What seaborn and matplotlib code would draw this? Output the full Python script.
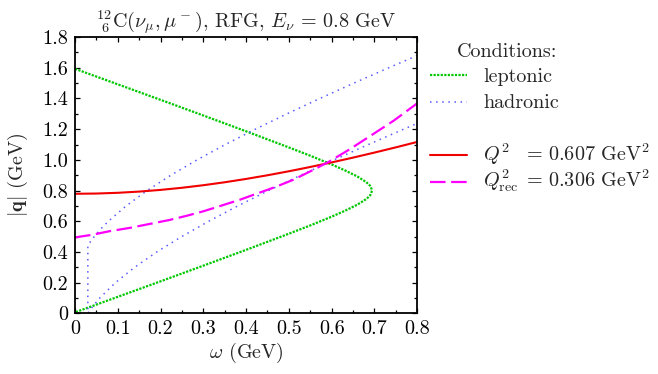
import numpy as np
import pandas as pd
import matplotlib
matplotlib.use("Agg")
import matplotlib.pyplot as plt
from matplotlib.lines import Line2D
import seaborn as sns

# ---------------- data ----------------
# leptonic boundary (closed curve: upper branch then lower branch)
lep_omega = [0, 0.1, 0.2, 0.3, 0.4, 0.5, 0.55, 0.6, 0.63, 0.66, 0.68, 0.685, 0.69, 0.692, 0.6943,
             0.692, 0.69, 0.685, 0.68, 0.66, 0.63, 0.6, 0.55, 0.5, 0.4, 0.3, 0.2, 0.1, 0]
lep_q = [1.593, 1.492, 1.391, 1.289, 1.186, 1.081, 1.027, 0.970, 0.933, 0.892, 0.857, 0.845, 0.831, 0.822, 0.800,
         0.778, 0.769, 0.755, 0.743, 0.708, 0.667, 0.630, 0.573, 0.519, 0.414, 0.311, 0.209, 0.108, 0.007]

# hadronic boundary (upper branch down to the vertical segment, then lower branch)
had_omega = [0.8004, 0.7337, 0.6520, 0.5726, 0.4957, 0.4219, 0.3516, 0.2854, 0.2241, 0.1685, 0.1195,
             0.0779, 0.0603, 0.0449, 0.0394, 0.0343, 0.030, 0.030,
             0.0427, 0.0577, 0.0944, 0.1392, 0.1911, 0.2492, 0.3126, 0.3806, 0.4525, 0.5277, 0.6057,
             0.6861, 0.7686, 0.8021]
had_q = [1.68, 1.60, 1.50, 1.40, 1.30, 1.20, 1.10, 1.00, 0.90, 0.80, 0.70,
         0.60, 0.55, 0.50, 0.48, 0.46, 0.442, 0.0,
         0.05, 0.10, 0.20, 0.30, 0.40, 0.50, 0.60, 0.70, 0.80, 0.90, 1.00,
         1.10, 1.20, 1.24]

# Q^2 = 0.607 GeV^2
q2_omega = [0, 0.05, 0.1, 0.15, 0.2, 0.25, 0.3, 0.35, 0.4, 0.45, 0.5, 0.55, 0.6, 0.65, 0.7, 0.75, 0.8]
q2_q = [0.7791, 0.7807, 0.7855, 0.7934, 0.8044, 0.8182, 0.8349, 0.8541, 0.8758, 0.8997, 0.9257,
        0.9537, 0.9834, 1.0146, 1.0474, 1.0814, 1.1167]

# Q^2_rec = 0.306 GeV^2
rec_omega = [0, 0.04, 0.08, 0.13, 0.175, 0.22, 0.26, 0.30, 0.34, 0.385, 0.43, 0.47, 0.51, 0.55,
             0.595, 0.64, 0.69, 0.745, 0.8]
rec_q = [0.495, 0.512, 0.535, 0.558, 0.583, 0.608, 0.635, 0.665, 0.700, 0.740, 0.785, 0.825, 0.870,
         0.925, 0.990, 1.065, 1.155, 1.255, 1.368]

x_ticks = [0, 0.1, 0.2, 0.3, 0.4, 0.5, 0.6, 0.7, 0.8]
x_tick_labels = ["0", "0.1", "0.2", "0.3", "0.4", "0.5", "0.6", "0.7", "0.8"]
y_ticks = [0, 0.2, 0.4, 0.6, 0.8, 1.0, 1.2, 1.4, 1.6, 1.8]
y_tick_labels = ["0", "0.2", "0.4", "0.6", "0.8", "1.0", "1.2", "1.4", "1.6", "1.8"]

legend_title = "Conditions:"
legend_names = ["leptonic", "hadronic", r"$Q^2$", r"$Q^2_{\mathrm{rec}}$"]
legend_values = ["", "", r"= 0.607 GeV$^2$", r"= 0.306 GeV$^2$"]

# ---------------- style ----------------
sns.set_theme(style="ticks")
plt.rcParams["font.family"] = ["cmr10", "DejaVu Serif"]
plt.rcParams["mathtext.fontset"] = "cm"
plt.rcParams["axes.formatter.use_mathtext"] = True
plt.rcParams["axes.unicode_minus"] = False

FS = 14.5
W, H = 658.0, 374.0
GREEN = "#00c800"
BLUE = "#5a5aff"
RED = "#f00000"
MAGENTA = "#ff00ff"

fig = plt.figure(figsize=(6.58, 3.74), dpi=100)
ax = fig.add_axes([0.114, 0.162, 0.520, 0.739])

lep_style = dict(color=GREEN, lw=1.6, linestyle=(0, (1, 0.6)))
had_style = dict(color=BLUE, lw=1.1, linestyle=(0, (1, 3)))
q2_style = dict(color=RED, lw=1.5, linestyle="-")
rec_style = dict(color=MAGENTA, lw=1.6, linestyle=(0, (7, 2.5)))
styles = [lep_style, had_style, q2_style, rec_style]

df_lep = pd.DataFrame({"omega": lep_omega, "q": lep_q})
df_had = pd.DataFrame({"omega": had_omega, "q": had_q})
df_q2 = pd.DataFrame({"omega": q2_omega, "q": q2_q})
df_rec = pd.DataFrame({"omega": rec_omega, "q": rec_q})

sns.lineplot(data=df_lep, x="omega", y="q", sort=False, estimator=None, ax=ax, **lep_style)
sns.lineplot(data=df_had, x="omega", y="q", sort=False, estimator=None, ax=ax, **had_style)
sns.lineplot(data=df_q2, x="omega", y="q", sort=False, estimator=None, ax=ax, **q2_style)
sns.lineplot(data=df_rec, x="omega", y="q", sort=False, estimator=None, ax=ax, **rec_style)

ax.set_xlim(0, 0.8)
ax.set_ylim(0, 1.8)
ax.set_xticks(x_ticks)
ax.set_xticklabels(x_tick_labels)
ax.set_yticks(y_ticks)
ax.set_yticklabels(y_tick_labels)
ax.set_xticks(np.arange(0, 0.8001, 0.05), minor=True)
ax.set_yticks(np.arange(0, 1.8001, 0.1), minor=True)
ax.tick_params(which="both", direction="in", top=True, right=True, colors="black",
               labelsize=FS, width=0.9, pad=5)
ax.tick_params(which="major", length=3.8)
ax.tick_params(which="minor", length=2.3)
for sp in ax.spines.values():
    sp.set_linewidth(1.3)
    sp.set_color("black")

ax.set_xlabel(r"$\omega$ (GeV)", fontsize=FS, labelpad=2)
ax.set_ylabel(r"$|\mathbf{q}|$ (GeV)", fontsize=FS, labelpad=9)
ax.set_title(r"${}^{12}_{\ 6}\mathrm{C}(\nu_\mu,\mu^-)$, RFG, $E_\nu$ = 0.8 GeV", fontsize=FS, pad=5)

# ---------------- key (placed to the right of the axes) ----------------
fig.text(457 / W, 1 - 56.7 / H, legend_title, fontsize=FS, va="baseline", ha="left")
handle_y = [75, 101.5, 155, 181.7]
text_base = [81.7, 108.0, 160.7, 186.7]
for st, hy, tb, name, val in zip(styles, handle_y, text_base, legend_names, legend_values):
    fig.add_artist(Line2D([430 / W, 467 / W], [1 - hy / H, 1 - hy / H],
                          transform=fig.transFigure, **st))
    fig.text(483 / W, 1 - tb / H, name, fontsize=FS, va="baseline", ha="left")
    if val:
        fig.text(526 / W, 1 - tb / H, val, fontsize=FS, va="baseline", ha="left")

fig.savefig("out.png", dpi=100)
